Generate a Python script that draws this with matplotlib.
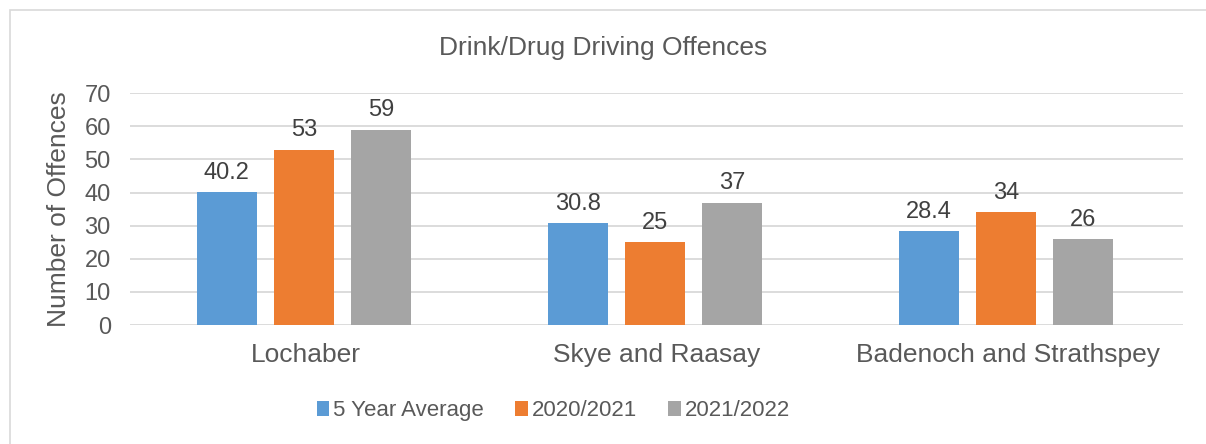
import matplotlib.pyplot as plt
import numpy as np
from matplotlib.patches import Rectangle

# dados
areas = ['Lochaber', 'Skye and Raasay', 'Badenoch and Strathspey']
series_nomes = ['5 Year Average', '2020/2021', '2021/2022']
media_5anos = [40.2, 30.8, 28.4]
ano_2020 = [53, 25, 34]
ano_2021 = [59, 37, 26]
cores = ['#5B9BD5', '#ED7D31', '#A5A5A5']
yticks = [0, 10, 20, 30, 40, 50, 60, 70]

plt.rcParams['font.family'] = ['Liberation Sans', 'DejaVu Sans']
cor_texto = '#595959'

fig = plt.figure(figsize=(12.06, 4.44), dpi=100)
ax = fig.add_axes([0.108, 0.268, 0.873, 0.522])

# moldura do grafico
fig.patches.append(Rectangle((10/1206, -0.1), 1.2, 1 - 10/444 + 0.1, transform=fig.transFigure,
                             fill=False, edgecolor='#d9d9d9', linewidth=1.2))

x = np.arange(len(areas))
larg = 0.171
passo = 0.22
valores = [media_5anos, ano_2020, ano_2021]
for k, vals in enumerate(valores):
    barras = ax.bar(x + (k - 1) * passo - 0.005, vals, larg, color=cores[k], label=series_nomes[k], zorder=3)
    for b, v in zip(barras, vals):
        txt = ('%g' % v)
        ax.text(b.get_x() + b.get_width() / 2, v + 2.5, txt, ha='center', va='bottom',
                fontsize=17, color='#404040')

ax.set_xlim(-0.5, 2.5)
ax.set_ylim(0, 70)
ax.set_yticks(yticks)
ax.grid(axis='y', color='#d9d9d9', linewidth=1.3, zorder=0)
for s in ax.spines.values():
    s.set_visible(False)
ax.tick_params(axis='both', length=0, colors=cor_texto)
ax.tick_params(axis='y', labelsize=17, pad=14)
ax.set_xticks(x)
ax.set_xticklabels(areas, fontsize=19)
ax.tick_params(axis='x', pad=13)
ax.set_ylabel('Number of Offences', fontsize=19, color=cor_texto, labelpad=10)

fig.text(0.5, 0.893, 'Drink/Drug Driving Offences', ha='center', va='center', fontsize=19, color=cor_texto)

leg = fig.legend(loc='center', bbox_to_anchor=(0.459, 0.075), ncol=3, frameon=False,
                 fontsize=16, handlelength=0.55, handleheight=0.7, handletextpad=0.2,
                 columnspacing=1.4)
for t in leg.get_texts():
    t.set_color(cor_texto)

plt.savefig('out.png', dpi=100)
